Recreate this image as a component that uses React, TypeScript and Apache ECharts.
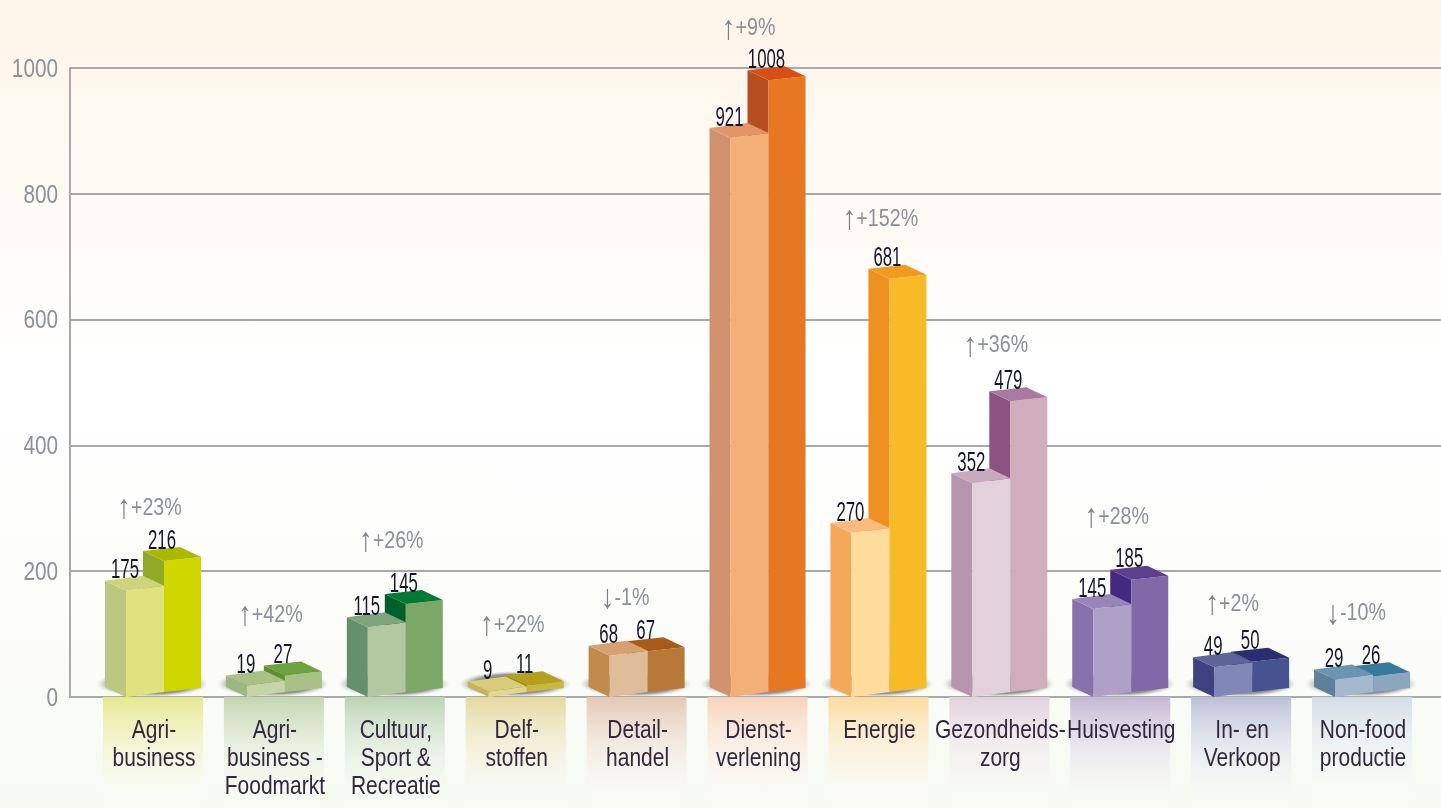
import React, { useEffect, useRef } from "react";
import * as echarts from "echarts";

const categories = ["Agri-\nbusiness", "Agri-\nbusiness -\nFoodmarkt", "Cultuur,\nSport &\nRecreatie", "Delf-\nstoffen", "Detail-\nhandel", "Dienst-\nverlening", "Energie", "Gezondheids-\nzorg", "Huisvesting", "In- en\nVerkoop", "Non-food\nproductie"];
const valuesFirst = [175, 19, 115, 9, 68, 921, 270, 352, 145, 49, 29];
const valuesSecond = [216, 27, 145, 11, 67, 1008, 681, 479, 185, 50, 26];
const changeArrows = ["↑", "↑", "↑", "↑", "↓", "↑", "↑", "↑", "↑", "↑", "↓"];
const changes = ["+23%", "+42%", "+26%", "+22%", "-1%", "+9%", "+152%", "+36%", "+28%", "+2%", "-10%"];
const yTickValues = [0, 200, 400, 600, 800, 1000];

// Layout and colours, separate from the data
const changeLift = [54, 62, 64, 62, 55, 53, 61, 57, 64, 59, 64];
// side, front, top of the first bar; side, front, top of the second bar; column tint
const palettes = [
  ["#bcc77f", "#e0e27f", "#ccd47c", "#8fa928", "#d0d600", "#aab800", "#e6e98f"],
  ["#9eb584", "#c5d5a8", "#a9c184", "#5c8f2f", "#a9c184", "#6ca33c", "#c3d6b0"],
  ["#64906c", "#b3c7a0", "#7fa57c", "#00602c", "#7ca866", "#007a33", "#bcd3b4"],
  ["#c4b55c", "#e3d78f", "#d8cc78", "#9a8a14", "#c9b840", "#b5a01e", "#e4d9a0"],
  ["#c08a4c", "#e0bd9a", "#d8a070", "#94521a", "#b87838", "#a85c1a", "#e4c9b4"],
  ["#d2916e", "#f4ae78", "#e49568", "#b54f22", "#e87722", "#d64f17", "#f8d4bc"],
  ["#f4a85a", "#fddc9c", "#f9bc7c", "#ef8f20", "#f6bb26", "#f09a20", "#fbdca0"],
  ["#b795ad", "#e2d0da", "#c8a9c0", "#8c5280", "#cfadbb", "#a97aa0", "#e2d2dc"],
  ["#8871ab", "#b0a0c8", "#9a85bb", "#432a80", "#8069a6", "#5c3f8f", "#c4b8d4"],
  ["#3f4180", "#8088b8", "#5c6499", "#26286c", "#485290", "#2a2e70", "#bcc0d8"],
  ["#5f7f9a", "#a4b8d0", "#6c95b4", "#2a6b8c", "#8ca5c0", "#377a9c", "#d4dee8"],
];
const FONT = '"Liberation Sans", sans-serif';
const BAR_SCALE = 0.965;
const X_MIN = -0.6865;
const X_MAX = 10.653;

function box(cx: number, y0: number, h: number, l: number, m: number, r: number, rise: number, colors: string[]) {
  const ty = y0 - h;
  return [
    { type: "polygon", shape: { points: [[cx + l, y0 - 10], [cx + m, y0], [cx + m, ty], [cx + l, ty - 10]] }, style: { fill: colors[0] } },
    { type: "polygon", shape: { points: [[cx + m, y0], [cx + r, y0 - rise], [cx + r, ty - rise], [cx + m, ty]] }, style: { fill: colors[1] } },
    { type: "polygon", shape: { points: [[cx + l, ty - 10], [cx + m, ty], [cx + r, ty - rise], [cx + l + r - m, ty - 10 - rise]] }, style: { fill: colors[2] } },
  ];
}

function narrowText(text: string, x: number, y: number, size: number, scaleX: number, fill: string, align: string) {
  return { type: "text", x, y, scaleX, style: { text, x: 0, y: 0, font: `${size}px ${FONT}`, fill, align, verticalAlign: "middle" } };
}

function renderItem(_params: any, api: any) {
  const i = api.value(0);
  const v1 = api.value(1);
  const v2 = api.value(2);
  const [cx, y0] = api.coord([i, 0]);
  const h1 = api.size([0, v1])[1] * BAR_SCALE;
  const h2 = api.size([0, v2])[1] * BAR_SCALE;
  const p = palettes[i];
  const y2 = y0 - 5;
  const top1 = y0 - h1;
  const top2 = y2 - h2;
  const lines = categories[i].split("\n");
  const changeY = Math.min(top1, top2) - changeLift[i];
  const children: any[] = [
    {
      type: "rect",
      shape: { x: cx - 50, y: y0, width: 100, height: 808 - y0 },
      style: { fill: new echarts.graphic.LinearGradient(0, 0, 0, 1, [{ offset: 0, color: p[6] }, { offset: 1, color: "rgba(255,255,255,0.1)" }]) },
    },
    {
      type: "ellipse",
      shape: { cx: cx - 1, cy: y0 - 13, rx: 56, ry: 13 },
      style: {
        fill: new echarts.graphic.RadialGradient(0.5, 0.5, 0.5, [
          { offset: 0, color: "rgba(70,70,70,0.95)" },
          { offset: 0.75, color: "rgba(125,125,125,0.8)" },
          { offset: 1, color: "rgba(190,190,190,0)" },
        ]),
      },
    },
    ...box(cx, y2, h2, -10, 11, 48, 4, [p[3], p[4], p[5]]),
    ...box(cx, y0, h1, -48, -27, 11, 5, [p[0], p[1], p[2]]),
    narrowText(String(v1), cx - 28, top1 - 22, 28, 0.6, "#15152a", "center"),
    narrowText(String(v2), cx + 9, top2 - 22, 28, 0.6, "#15152a", "center"),
    {
      type: "text",
      x: cx - 36,
      y: changeY,
      scaleX: 0.82,
      style: {
        text: `{a|${changeArrows[i]}}{b|${changes[i]}}`,
        x: 0,
        y: 0,
        align: "left",
        verticalAlign: "middle",
        rich: {
          a: { font: `34px ${FONT}`, fill: "#7d8185" },
          b: { font: `24px ${FONT}`, fill: "#8b9197" },
        },
      },
    },
  ];
  lines.forEach((line, k) => {
    children.push(narrowText(line, cx + 1, y0 + 32 + k * 28, 25, 0.84, "#33283f", "center"));
  });
  return { type: "group", children };
}

function renderTick(_params: any, api: any) {
  const v = api.value(0);
  const [x, y] = api.coord([X_MIN, v]);
  return narrowText(String(v), x - 12, y, 25, 0.83, "#8b9197", "right");
}

export default function App() {
  const ref = useRef<HTMLDivElement>(null);
  useEffect(() => {
    document.body.style.margin = "0";
    const chart = echarts.init(ref.current!, null, { renderer: "svg" });
    chart.setOption({
      animation: false,
      backgroundColor: new echarts.graphic.LinearGradient(0, 0, 0, 1, [
        { offset: 0, color: "#fef5e9" },
        { offset: 0.45, color: "#ffffff" },
        { offset: 0.75, color: "#fdfdfc" },
        { offset: 1, color: "#f6faf1" },
      ]),
      grid: { left: 70, right: 0, top: 68, bottom: 111, outerBoundsMode: "none" },
      xAxis: {
        type: "value",
        min: X_MIN,
        max: X_MAX,
        splitLine: { show: false },
        axisTick: { show: false },
        axisLabel: { show: false },
        axisLine: { show: true, onZero: false, lineStyle: { color: "#a9a9a9", width: 2 } },
      },
      yAxis: {
        type: "value",
        min: 0,
        max: 1000,
        interval: 200,
        axisLine: { show: true, onZero: false, lineStyle: { color: "#a9a9a9", width: 2 } },
        axisTick: { show: false },
        axisLabel: { show: false },
        splitLine: { show: true, lineStyle: { color: "#a9a9a9", width: 2 } },
      },
      series: [
        {
          type: "custom",
          clip: false,
          renderItem: renderTick,
          encode: { x: 1, y: 0 },
          data: yTickValues.map((v) => [v, X_MIN]),
        },
        {
          type: "custom",
          clip: false,
          renderItem,
          encode: { x: 0, y: 1 },
          data: categories.map((_, i) => [i, valuesFirst[i], valuesSecond[i]]),
        },
      ],
    });
    return () => chart.dispose();
  }, []);
  return <div ref={ref} style={{ width: 1441, height: 808, filter: "blur(0.6px)" }} />;
}
